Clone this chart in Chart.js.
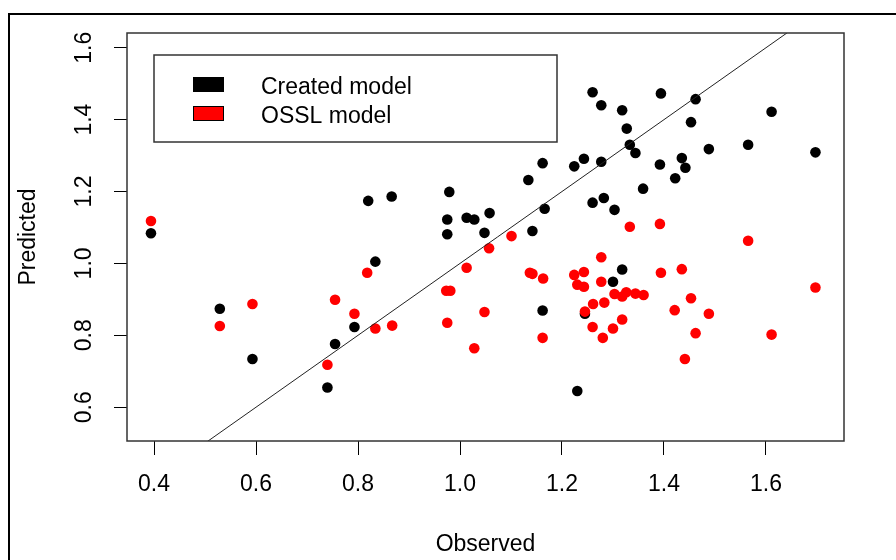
<!DOCTYPE html>
<html>
<head>
<meta charset="utf-8">
<script src="https://cdn.jsdelivr.net/npm/chart.js@4.4.0/dist/chart.umd.min.js"></script>
<style>
  html, body { margin: 0; padding: 0; background: #fff; }
  canvas { display: block; }
</style>
</head>
<body>
<canvas id="graficoModelos" width="896" height="560"></canvas>
<script>
// valores observados / predichos de cada modelo
const observadoCreado = [0.394, 0.529, 0.593, 0.740, 0.755, 0.793, 0.820, 0.834, 0.866, 0.975,
  0.975, 0.979, 1.013, 1.028, 1.048, 1.058, 1.134, 1.142, 1.162, 1.166,
  1.162, 1.224, 1.230, 1.243, 1.245, 1.260, 1.260, 1.277, 1.277, 1.282,
  1.300, 1.303, 1.318, 1.318, 1.327, 1.333, 1.344, 1.359, 1.392, 1.394,
  1.422, 1.435, 1.442, 1.453, 1.462, 1.488, 1.565, 1.611, 1.697];
const predichoCreado = [1.084, 0.874, 0.734, 0.655, 0.776, 0.823, 1.174, 1.005, 1.186, 1.122,
  1.081, 1.199, 1.127, 1.122, 1.085, 1.140, 1.232, 1.090, 1.279, 1.152,
  0.869, 1.270, 0.645, 1.291, 0.860, 1.476, 1.169, 1.440, 1.283, 1.182,
  0.949, 1.149, 1.426, 0.983, 1.375, 1.330, 1.307, 1.208, 1.275, 1.473,
  1.237, 1.293, 1.266, 1.393, 1.457, 1.318, 1.330, 1.422, 1.309];

const observadoOSSL = [0.394, 0.529, 0.593, 0.740, 0.755, 0.793, 0.818, 0.834, 0.867, 0.973,
  0.981, 0.975, 1.013, 1.028, 1.048, 1.057, 1.101, 1.137, 1.142, 1.163,
  1.162, 1.224, 1.230, 1.243, 1.243, 1.245, 1.261, 1.260, 1.277, 1.277,
  1.283, 1.280, 1.303, 1.300, 1.318, 1.318, 1.326, 1.333, 1.344, 1.360,
  1.392, 1.394, 1.421, 1.435, 1.441, 1.453, 1.462, 1.488, 1.565, 1.611, 1.697];
const predichoOSSL = [1.118, 0.826, 0.887, 0.718, 0.899, 0.860, 0.974, 0.819, 0.827, 0.924,
  0.924, 0.835, 0.988, 0.764, 0.865, 1.042, 1.076, 0.974, 0.971, 0.958,
  0.793, 0.968, 0.941, 0.976, 0.935, 0.866, 0.887, 0.823, 1.017, 0.949,
  0.891, 0.793, 0.915, 0.819, 0.908, 0.844, 0.920, 1.102, 0.916, 0.912,
  1.110, 0.974, 0.870, 0.984, 0.734, 0.903, 0.806, 0.860, 1.063, 0.802, 0.933];

const nombresModelos = ['Created model', 'OSSL model'];
const coloresModelos = ['#000000', '#ff0000'];
const ticksX = [0.4, 0.6, 0.8, 1.0, 1.2, 1.4, 1.6];
const ticksY = [0.6, 0.8, 1.0, 1.2, 1.4, 1.6];
const rangoX = [0.347, 1.753];
const rangoY = [0.506, 1.641];
const lineaUnoAUno = [0.3, 1.8];

const fuente = { family: '"Liberation Sans", Arial, sans-serif', size: 23 };

function puntos(xs, ys) {
  return xs.map((x, i) => ({ x: x, y: ys[i] }));
}

// marco exterior, caja del panel y leyenda estilo R
const marcoR = {
  id: 'marcoR',
  beforeDraw(chart) {
    const ctx = chart.ctx;
    ctx.save();
    ctx.fillStyle = '#fff';
    ctx.fillRect(0, 0, chart.width, chart.height);
    ctx.restore();
  },
  afterDraw(chart) {
    const ctx = chart.ctx;
    const a = chart.chartArea;
    ctx.save();
    ctx.strokeStyle = '#333';
    ctx.lineWidth = 1.5;
    ctx.strokeRect(a.left, a.top, a.right - a.left, a.bottom - a.top);

    ctx.strokeStyle = '#000';
    ctx.lineWidth = 2;
    ctx.beginPath();
    ctx.moveTo(9, chart.height);
    ctx.lineTo(9, 14);
    ctx.lineTo(chart.width, 14);
    ctx.stroke();

    // leyenda
    const lx = a.left + 27, ly = a.top + 22;
    ctx.strokeStyle = '#333';
    ctx.lineWidth = 1.5;
    ctx.strokeRect(lx, ly, 403, 87);
    ctx.font = '23px "Liberation Sans", Arial, sans-serif';
    ctx.textBaseline = 'alphabetic';
    ctx.textAlign = 'left';
    nombresModelos.forEach((nombre, i) => {
      const y = ly + 22 + i * 29;
      ctx.fillStyle = coloresModelos[i];
      ctx.fillRect(lx + 39, y, 31, 15);
      ctx.strokeStyle = '#000';
      ctx.lineWidth = 1;
      ctx.strokeRect(lx + 39.5, y + 0.5, 30, 14);
      ctx.fillStyle = '#000';
      ctx.fillText(nombre, lx + 107, y + 16.5);
    });
    ctx.restore();
  }
};

const ctx = document.getElementById('graficoModelos').getContext('2d');
const grafico = new Chart(ctx, {
  type: 'scatter',
  data: {
    datasets: [
      {
        label: '1:1',
        data: [{ x: lineaUnoAUno[0], y: lineaUnoAUno[0] }, { x: lineaUnoAUno[1], y: lineaUnoAUno[1] }],
        showLine: true,
        borderColor: '#222',
        borderWidth: 1,
        pointRadius: 0,
        order: 0
      },
      {
        label: nombresModelos[1],
        data: puntos(observadoOSSL, predichoOSSL),
        backgroundColor: coloresModelos[1],
        borderWidth: 0,
        pointRadius: 5.3,
        order: 1
      },
      {
        label: nombresModelos[0],
        data: puntos(observadoCreado, predichoCreado),
        backgroundColor: coloresModelos[0],
        borderWidth: 0,
        pointRadius: 5.3,
        order: 2
      }
    ]
  },
  options: {
    responsive: false,
    animation: false,
    devicePixelRatio: 1,
    events: [],
    layout: { padding: { top: 33, right: 52, left: 0, bottom: 0 } },
    plugins: {
      legend: { display: false },
      tooltip: { enabled: false }
    },
    scales: {
      x: {
        type: 'linear',
        min: rangoX[0],
        max: rangoX[1],
        afterBuildTicks: s => { s.ticks = ticksX.map(v => ({ value: v })); },
        afterFit: s => { s.height = 119; },
        grid: { drawOnChartArea: false, drawTicks: true, tickLength: 14, color: '#000' },
        border: { display: false },
        ticks: {
          autoSkip: false, maxRotation: 0, padding: 16,
          font: fuente, color: '#000',
          callback: v => v.toFixed(1)
        },
        title: { display: true, text: 'Observed', font: fuente, color: '#000', padding: { top: 0, bottom: 2 } }
      },
      y: {
        type: 'linear',
        min: rangoY[0],
        max: rangoY[1],
        afterBuildTicks: s => { s.ticks = ticksY.map(v => ({ value: v })); },
        afterFit: s => { s.width = 127; },
        grid: { drawOnChartArea: false, drawTicks: true, tickLength: 13, color: '#000' },
        border: { display: false },
        ticks: {
          autoSkip: false, minRotation: 90, maxRotation: 90, crossAlign: 'center', padding: 13,
          font: fuente, color: '#000',
          callback: v => v.toFixed(1)
        },
        title: { display: true, text: 'Predicted', font: fuente, color: '#000', padding: { top: 15, bottom: 0 } }
      }
    }
  },
  plugins: [marcoR]
});
</script>
</body>
</html>
